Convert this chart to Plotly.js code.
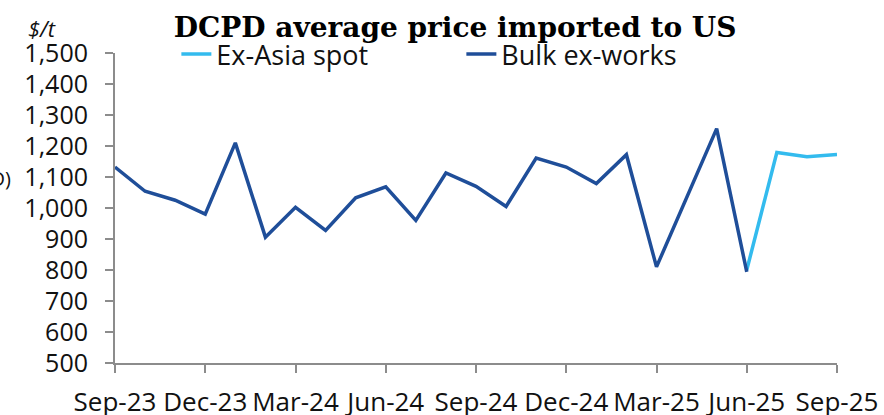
<!DOCTYPE html>
<html>
<head>
<meta charset="utf-8">
<script src="https://cdn.plot.ly/plotly-3.0.1.min.js"></script>
<style>html,body{margin:0;padding:0;background:#fff;}#chart{width:884px;height:415px;}</style>
</head>
<body>
<div id="chart"></div>
<script>
const months = ['Sep-23','Oct-23','Nov-23','Dec-23','Jan-24','Feb-24','Mar-24','Apr-24','May-24','Jun-24','Jul-24','Aug-24','Sep-24','Oct-24','Nov-24','Dec-24','Jan-25','Feb-25','Mar-25','Apr-25','May-25','Jun-25','Jul-25','Aug-25','Sep-25'];
const tickMonths = ['Sep-23','Dec-23','Mar-24','Jun-24','Sep-24','Dec-24','Mar-25','Jun-25','Sep-25'];
const bulkMonths = months.slice(0, 22);
const bulkValues = [1132,1054,1025,980,1210,906,1002,928,1033,1068,960,1113,1070,1005,1161,1132,1079,1172,810,1035,1256,794];
const spotMonths = ['Jun-25','Jul-25','Aug-25','Sep-25'];
const spotValues = [800,1179,1165,1173];

const axisColor = '#8c8c8c';

const traces = [
  {x: spotMonths, y: spotValues, name: 'Ex-Asia spot', type: 'scatter', mode: 'lines',
   line: {color: '#33bbee', width: 3.5}},
  {x: bulkMonths, y: bulkValues, name: 'Bulk ex-works', type: 'scatter', mode: 'lines',
   line: {color: '#1f4e99', width: 3.5}}
];

const layout = {
  width: 884, height: 415,
  margin: {l: 115, r: 47, t: 53, b: 52},
  paper_bgcolor: '#fff', plot_bgcolor: '#fff',
  title: {text: '<b>DCPD average price imported to US</b>', font: {family: 'DejaVu Serif', size: 28, color: '#000'},
          xref: 'paper', x: 0.471, xanchor: 'center', yref: 'container', y: 0.935, yanchor: 'middle'},
  showlegend: true,
  legend: {orientation: 'h', x: 0.085, xanchor: 'left', y: 0.995, yanchor: 'middle',
           font: {family: 'Open Sans', size: 27, color: '#111'}, bgcolor: 'rgba(0,0,0,0)',
           entrywidth: 240, entrywidthmode: 'pixels', traceorder: 'normal'},
  xaxis: {type: 'category', categoryorder: 'array', categoryarray: months, range: [0, 24],
          tickmode: 'array', tickvals: tickMonths, ticktext: tickMonths, tickangle: 0,
          showline: true, linecolor: axisColor, linewidth: 2, ticks: 'outside', ticklen: 8, tickwidth: 2, tickcolor: axisColor,
          showgrid: false, zeroline: false, tickfont: {family: 'Open Sans', size: 26, color: '#111'}, ticklabelstandoff: 7},
  yaxis: {range: [500, 1500], dtick: 100, tick0: 500, tickformat: ',d',
          showline: true, linecolor: axisColor, linewidth: 2, ticks: 'outside', ticklen: 8, tickwidth: 2, tickcolor: axisColor,
          showgrid: false, zeroline: false, tickfont: {family: 'Open Sans', size: 25, color: '#111'}, ticklabelstandoff: 12},
  annotations: [
    {text: '<i>$/t</i>', xref: 'paper', yref: 'paper', x: -0.101, y: 1.08, xanchor: 'center', yanchor: 'middle',
     showarrow: false, font: {family: 'Open Sans', size: 22, color: '#111'}},
    {text: '(USD)', xref: 'paper', yref: 'paper', x: -0.1413, y: 0.596, xanchor: 'right', yanchor: 'middle',
     showarrow: false, font: {family: 'Open Sans', size: 20, color: '#111'}}
  ]
};

Plotly.newPlot('chart', traces, layout, {displayModeBar: false, staticPlot: true});
</script>
</body>
</html>
